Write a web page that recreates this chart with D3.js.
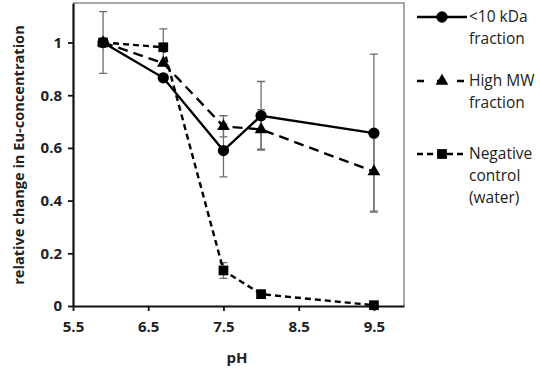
<!DOCTYPE html>
<html>
<head>
<meta charset="utf-8">
<script src="https://cdn.jsdelivr.net/npm/d3@7"></script>
<style>
  body { margin: 0; background: #fff; }
  text { font-family: "Open Sans", sans-serif; }
</style>
</head>
<body>
<div id="canvas"></div>
<script>
"use strict"

/* size of the picture */
let svgWidth = 540;
let svgHeight = 368;
/* plot area */
let leftMargin = 73
let rightEdge = 404
let topMargin = 3
let bottomEdge = 306

/* data */
let phValues = [5.9, 6.7, 7.5, 8.0, 9.5];
let smallFraction = [1.0, 0.866, 0.59, 0.722, 0.656];
let smallFractionErr = [0.117, 0, 0.1, 0.13, 0.30];
let highMW = [1.0, 0.922, 0.682, 0.67, 0.51];
let highMWErr = [0, 0, 0.04, 0.075, 0.15];
let control = [1.0, 0.982, 0.135, 0.045, 0.003];
let controlErr = [0, 0.07, 0.03, 0, 0];
let xTicks = [5.5, 6.5, 7.5, 8.5, 9.5];
let yTicks = [0, 0.2, 0.4, 0.6, 0.8, 1];
let seriesNames = [["<10 kDa", "fraction"], ["High MW", "fraction"], ["Negative", "control", "(water)"]];

let svg = d3.select("#canvas")
    .append("svg")
    .attr("width", svgWidth)
    .attr("height", svgHeight);

let xScale = d3.scaleLinear()
    .domain([5.5, 9.9])
    .range([leftMargin, rightEdge]);

let yScale = d3.scaleLinear()
    .domain([0, 1.15])
    .range([bottomEdge, topMargin]);

/* frame: top and right are grey thin lines */
svg.append("path")
    .attr("d", `M${leftMargin},${topMargin}H${rightEdge}V${bottomEdge}`)
    .attr("fill", "none")
    .attr("stroke", "#8a8a8a")
    .attr("stroke-width", 1.5);

/* axes */
let xAxis = svg.append("g")
    .attr("transform", `translate(0,${bottomEdge})`)
    .call(d3.axisBottom(xScale).tickValues(xTicks).tickSize(5).tickSizeOuter(0).tickFormat(d3.format(".1f")));

let yAxis = svg.append("g")
    .attr("transform", `translate(${leftMargin},0)`)
    .call(d3.axisLeft(yScale).tickValues(yTicks).tickSize(5).tickSizeOuter(0).tickFormat(function (d) { return d === 0 || d === 1 ? d : d3.format(".1f")(d); }));

svg.selectAll(".domain").attr("stroke", "#111").attr("stroke-width", 2.2);
svg.selectAll(".tick line").attr("stroke", "#111").attr("stroke-width", 1.8);
svg.selectAll(".tick text")
    .attr("font-family", "Open Sans, sans-serif")
    .attr("font-size", 15)
    .attr("font-weight", "bold")
    .attr("fill", "#222");
xAxis.selectAll(".tick text").attr("dy", "1.2em");
yAxis.selectAll(".tick text").attr("x", -11);

/* axis labels */
svg.append("text")
    .attr("x", 237)
    .attr("y", 363)
    .attr("text-anchor", "middle")
    .attr("font-size", 15)
    .attr("font-weight", "bold")
    .attr("fill", "#222")
    .text("pH");

svg.append("text")
    .attr("transform", "translate(24,155) rotate(-90)")
    .attr("text-anchor", "middle")
    .attr("font-size", 14.6)
    .attr("font-weight", "bold")
    .attr("fill", "#222")
    .text("relative change in Eu-concentration");

let series = [
    { values: smallFraction, errors: smallFractionErr, dash: null, marker: d3.symbolCircle, size: 100 },
    { values: highMW, errors: highMWErr, dash: "10,6", marker: d3.symbolTriangle, size: 70 },
    { values: control, errors: controlErr, dash: "6,4", marker: d3.symbolSquare, size: 95 }
];

let line = d3.line()
    .x(function (d, i) { return xScale(phValues[i]); })
    .y(function (d) { return yScale(d); });

/* error bars */
for (let s = 0; s < series.length; s++) {
    for (let i = 0; i < phValues.length; i++) {
        let e = series[s].errors[i];
        if (e === 0) continue;
        let x = xScale(phValues[i]);
        let y1 = yScale(series[s].values[i] + e);
        let y2 = yScale(series[s].values[i] - e);
        svg.append("path")
            .attr("d", `M${x},${y1}V${y2}M${x - 4},${y1}H${x + 4}M${x - 4},${y2}H${x + 4}`)
            .attr("fill", "none")
            .attr("stroke", "#6e6e6e")
            .attr("stroke-width", 1.3);
    }
}

/* lines and markers */
for (let s = 0; s < series.length; s++) {
    svg.append("path")
        .datum(series[s].values)
        .attr("d", line)
        .attr("fill", "none")
        .attr("stroke", "#000")
        .attr("stroke-width", 2.4)
        .attr("stroke-dasharray", series[s].dash);

    svg.selectAll(null)
        .data(series[s].values)
        .join("path")
        .attr("transform", function (d, i) { return `translate(${xScale(phValues[i])},${yScale(d)})`; })
        .attr("d", d3.symbol().type(series[s].marker).size(series[s].size))
        .attr("fill", "#000");
}

/* legend */
let legendY = [17, 81, 154];
for (let s = 0; s < series.length; s++) {
    svg.append("line")
        .attr("x1", 417)
        .attr("x2", 467)
        .attr("y1", legendY[s])
        .attr("y2", legendY[s])
        .attr("stroke", "#000")
        .attr("stroke-width", 2.4)
        .attr("stroke-dasharray", s === 1 ? "7,13" : series[s].dash);

    svg.append("path")
        .attr("transform", `translate(442,${legendY[s]})`)
        .attr("d", d3.symbol().type(series[s].marker).size(series[s].size))
        .attr("fill", "#000");

    let names = seriesNames[s];
    for (let k = 0; k < names.length; k++) {
        svg.append("text")
            .attr("x", 469)
            .attr("y", legendY[s] + 5 + k * 22)
            .attr("font-size", 15.5)
            .attr("fill", "#222")
            .text(names[k]);
    }
}
</script>
</body>
</html>
